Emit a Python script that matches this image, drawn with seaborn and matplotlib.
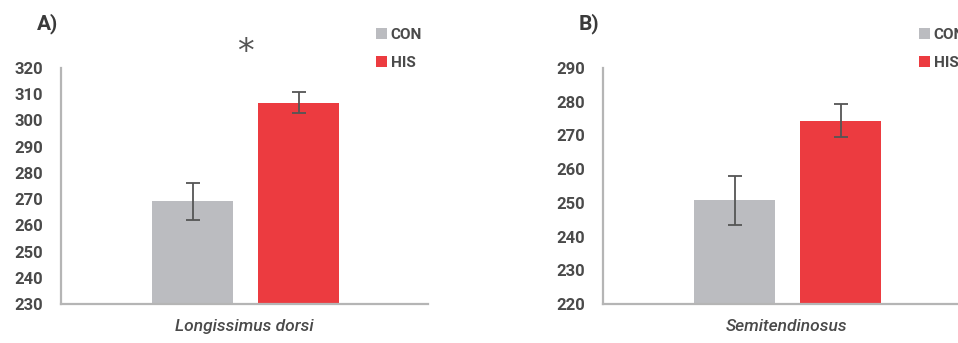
import matplotlib
matplotlib.use("Agg")
import matplotlib.pyplot as plt
import seaborn as sns
import pandas as pd

groups = ["CON", "HIS"]
panel_labels = ["A)", "B)"]
muscles = ["Longissimus dorsi", "Semitendinosus"]
ld_means = [269.1, 306.8]
ld_err = [6.9, 4.1]
st_means = [250.7, 274.3]
st_err = [7.2, 4.9]
ld_ticks = [230, 240, 250, 260, 270, 280, 290, 300, 310, 320]
st_ticks = [220, 230, 240, 250, 260, 270, 280, 290]
palette = {"CON": "#BBBCC0", "HIS": "#EC3B40"}

sns.set_theme(style="white")
plt.rcParams['font.family'] = ['Roboto', 'DejaVu Sans']

fig = plt.figure(figsize=(9.58, 3.43), dpi=100)
W, H = 958, 343

def px_axes(left, top, right, bottom):
    return fig.add_axes([left / W, 1 - bottom / H, (right - left) / W, (bottom - top) / H])

axA = px_axes(61, 68, 428, 304)
axB = px_axes(603, 68, 970, 304)

panels = [
    (axA, ld_means, ld_err, ld_ticks, muscles[0], panel_labels[0], True, 919 - 543),
    (axB, st_means, st_err, st_ticks, muscles[1], panel_labels[1], False, 919),
]

text_col = "#4a4a4a"
for ax, means, errs, ticks, muscle, plab, star, legx in panels:
    df = pd.DataFrame({"group": groups, "value": means, "err": errs})
    sns.barplot(data=df, x="group", y="value", hue="group", order=groups,
                hue_order=groups, palette=palette, width=0.764, errorbar=None,
                ax=ax, legend=True, saturation=1, edgecolor="none")
    ax.errorbar(range(len(groups)), df["value"], yerr=df["err"], fmt="none",
                ecolor="#555555", elinewidth=1.3, capsize=5, capthick=1.3, zorder=5)
    ax.set_ylim(ticks[0], ticks[-1])
    ax.set_yticks(ticks)
    ax.set_yticklabels([str(t) for t in ticks], fontsize=12, fontweight="bold", color=text_col)
    ax.tick_params(axis="y", length=0, pad=13)
    ax.set_xlim(-1.24, 2.22)
    ax.set_xticks([])
    ax.set_xlabel(muscle, fontsize=12.5, style="italic", fontweight="medium",
                  color=text_col, labelpad=11)
    ax.set_ylabel("")
    for s in ["top", "right"]:
        ax.spines[s].set_visible(False)
    for s in ["left", "bottom"]:
        ax.spines[s].set_color("#b5b5b5")
        ax.spines[s].set_linewidth(1.6)
    if star:
        ax.text(0.5, (304 - 52) / 236, "*", transform=ax.get_xaxis_transform(),
                ha="center", va="center", fontsize=24, color="#555555",
                family="DejaVu Sans", fontweight="normal")
    sns.move_legend(ax, loc="upper left", bbox_to_anchor=(legx / W, 1 - 28 / H),
                    bbox_transform=fig.transFigure, frameon=False, title=None,
                    handlelength=0.75, handleheight=0.75, handletextpad=0.2,
                    labelspacing=0.9, borderpad=0, borderaxespad=0,
                    prop={"size": 11, "weight": "bold"})
    for t in ax.get_legend().get_texts():
        t.set_color(text_col)
    ax.text(-24 / 367, 1 + 44 / 236, plab, transform=ax.transAxes, ha="left",
            va="center", fontsize=15, fontweight="bold", color="#3a3a3a")

fig.savefig("out.png", dpi=100)
